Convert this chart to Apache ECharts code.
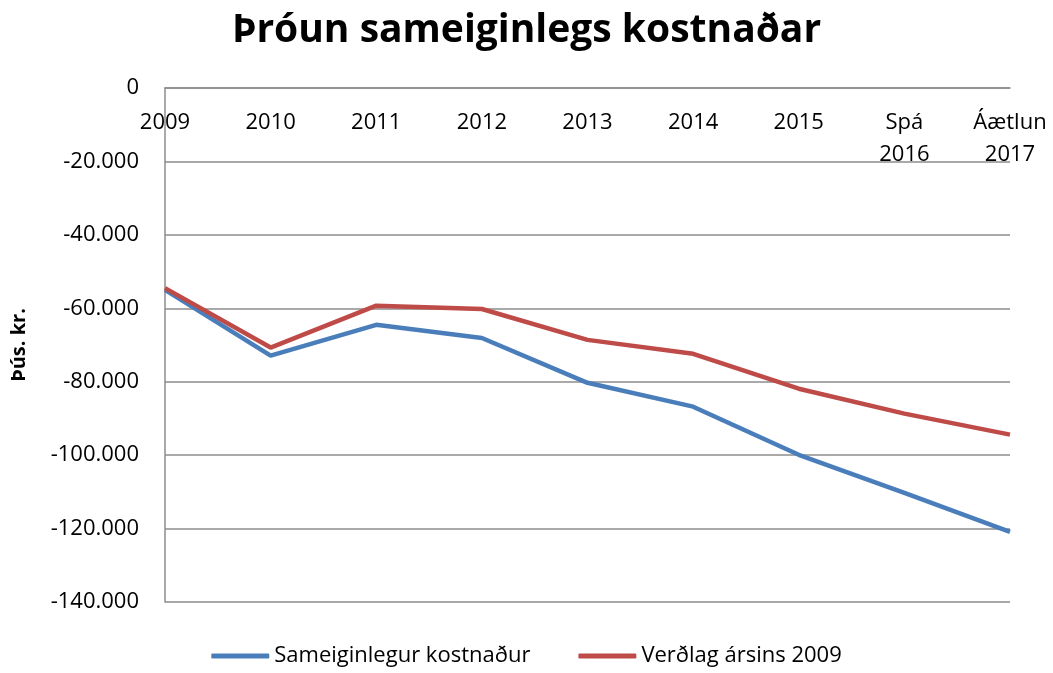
<!DOCTYPE html>
<html>
<head>
<meta charset="utf-8">
<script src="https://cdn.jsdelivr.net/npm/echarts@6/dist/echarts.min.js"></script>
<style>
  html, body { margin: 0; padding: 0; background: #fff; }
  #chart { width: 1053px; height: 673px; }
</style>
</head>
<body>
<div id="chart"></div>
<script>
var years = ['2009', '2010', '2011', '2012', '2013', '2014', '2015', 'Spá\n2016', 'Áætlun\n2017'];
var sameiginlegur = [-55000, -72900, -64500, -68100, -80300, -86800, -99900, -110300, -120900];
var verdlag2009 = [-54500, -70700, -59300, -60200, -68600, -72400, -81900, -88700, -94400];
var seriesNames = ['Sameiginlegur kostnaður', 'Verðlag ársins 2009'];

var chart = echarts.init(document.getElementById('chart'));
var font = 'Open Sans';
var gray = '#8c8c8c';

function fmt(v) {
    if (v === 0) return '0';
    var s = Math.abs(v).toString().replace(/\B(?=(\d{3})+(?!\d))/g, '.');
    return (v < 0 ? '-' : '') + s;
}

chart.setOption({
    animation: false,
    title: {
        text: 'Þróun sameiginlegs kostnaðar',
        left: 'center',
        top: 6,
        textStyle: { fontFamily: font, fontSize: 39, fontWeight: 'bold', color: '#000' }
    },
    grid: { left: 165, right: 43, top: 88, bottom: 71 },
    legend: {
        bottom: 1,
        left: 'center',
        itemWidth: 58,
        itemHeight: 5,
        itemGap: 48,
        icon: 'roundRect',
        textStyle: { fontFamily: font, fontSize: 22, color: '#000' },
        data: seriesNames
    },
    xAxis: {
        type: 'category',
        position: 'top',
        boundaryGap: false,
        data: years,
        axisLine: { lineStyle: { color: gray, width: 1.5 } },
        axisTick: { show: false },
        axisLabel: {
            inside: true,
            margin: 19,
            interval: 0,
            fontFamily: font,
            fontSize: 22,
            color: '#000',
            lineHeight: 32
        }
    },
    yAxis: {
        type: 'value',
        min: -140000,
        max: 0,
        interval: 20000,
        name: 'Þús. kr.',
        nameLocation: 'middle',
        nameGap: 136,
        nameTextStyle: { fontFamily: font, fontSize: 20, fontWeight: 'bold', color: '#000' },
        axisLine: { show: true, lineStyle: { color: gray, width: 1.5 } },
        axisTick: { show: false },
        splitLine: { lineStyle: { color: gray, width: 1.5 } },
        axisLabel: {
            margin: 26,
            fontFamily: font,
            fontSize: 22,
            color: '#000',
            formatter: fmt
        }
    },
    series: [
        {
            name: seriesNames[0],
            type: 'line',
            data: sameiginlegur,
            showSymbol: false,
            symbol: 'none',
            color: '#4a7ebb',
            lineStyle: { width: 4.5, color: '#4a7ebb' }
        },
        {
            name: seriesNames[1],
            type: 'line',
            data: verdlag2009,
            showSymbol: false,
            symbol: 'none',
            color: '#be4b48',
            lineStyle: { width: 4.5, color: '#be4b48' }
        }
    ]
});
</script>
</body>
</html>
